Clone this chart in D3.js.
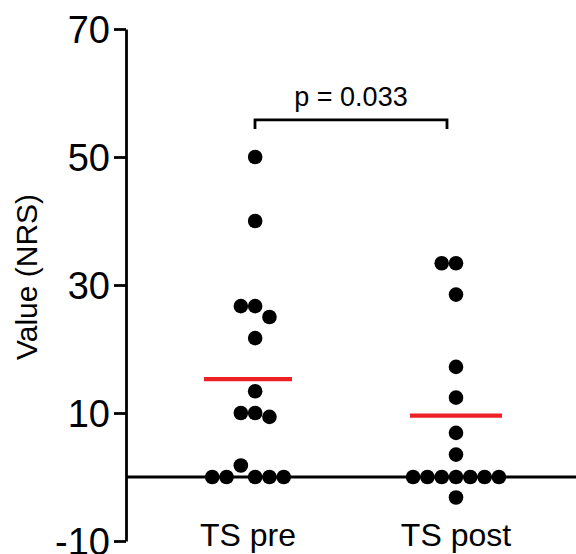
<!DOCTYPE html>
<html>
<head>
<meta charset="utf-8">
<script src="https://cdn.jsdelivr.net/npm/d3@7"></script>
<style>
  html, body { margin: 0; padding: 0; background: #fff; }
  svg { display: block; }
  text { font-family: Helvetica, "Liberation Sans", Arial, sans-serif; fill: #000; }
</style>
</head>
<body>
<svg id="chart" width="576" height="554"></svg>
<script>
// ---- data ----
const categories = ["TS pre", "TS post"];
const preValues  = [50, 40, 26.7, 26.7, 25.0, 21.7, 13.4, 10.0, 10.0, 9.4, 1.8, 0, 0, 0, 0, 0];
const preSlots   = [0.5, 0.5, -0.5, 0.5, 1.5, 0.5, 0.5, -0.5, 0.5, 1.5, -0.5, -2.5, -1.5, 0.5, 1.5, 2.5];
const postValues = [33.4, 33.4, 28.5, 17.2, 12.4, 6.9, 3.5, 0, 0, 0, 0, 0, 0, 0, -3.2];
const postSlots  = [-1, 0, 0, 0, 0, 0, 0, -3, -2, -1, 0, 1, 2, 3, 0];
const meanValues = [15.3, 9.6];
const yTicks = [-10, 10, 30, 50, 70];
const yTickLabels = ["-10", "10", "30", "50", "70"];
const yLabel = "Value (NRS)";
const pLabel = "p = 0.033";
const bracketValue = 55.8;

// ---- layout ----
const svg = d3.select("#chart");
const axisX = 126;
const y = d3.scaleLinear().domain([-10, 70]).range([541, 29]);
const x = d3.scalePoint().domain(categories).range([248, 456]);
const slotW = 14.3, r = 7.3;

// zero line
svg.append("line")
  .attr("x1", axisX).attr("x2", 576)
  .attr("y1", y(0)).attr("y2", y(0))
  .attr("stroke", "#000").attr("stroke-width", 2.8);

// y axis
const yAxis = d3.axisLeft(y).tickValues(yTicks)
  .tickFormat((d, i) => yTickLabels[i])
  .tickSize(12).tickPadding(4).tickSizeOuter(0);
const gy = svg.append("g").attr("transform", `translate(${axisX},0)`).call(yAxis);
gy.select(".domain").attr("stroke", "#000").attr("stroke-width", 2.8);
gy.selectAll(".tick line").attr("stroke", "#000").attr("stroke-width", 2.8);
gy.selectAll(".tick text")
  .style("font-family", 'Helvetica, "Liberation Sans", Arial, sans-serif')
  .style("font-size", "38px").attr("fill", "#000").attr("dy", "0.36em");

// y label
svg.append("text")
  .attr("transform", `translate(37,${y(30) - 8}) rotate(-90)`)
  .attr("text-anchor", "middle")
  .style("font-size", "30px")
  .text(yLabel);

// category labels
svg.selectAll(".cat").data(categories).enter().append("text")
  .attr("class", "cat")
  .attr("x", d => x(d)).attr("y", 546)
  .attr("text-anchor", "middle")
  .style("font-size", "32px")
  .text(d => d);

// points
const groups = [
  { cat: categories[0], values: preValues, slots: preSlots },
  { cat: categories[1], values: postValues, slots: postSlots }
];
groups.forEach(g => {
  svg.selectAll(null).data(g.values.map((v, i) => ({ v, s: g.slots[i] }))).enter()
    .append("circle")
    .attr("cx", d => x(g.cat) + d.s * slotW)
    .attr("cy", d => y(d.v))
    .attr("r", r)
    .attr("fill", "#000");
});

// mean lines
const halfW = [44, 46];
svg.selectAll(".mean").data(meanValues).enter().append("line")
  .attr("class", "mean")
  .attr("x1", (d, i) => x(categories[i]) - halfW[i])
  .attr("x2", (d, i) => x(categories[i]) + halfW[i])
  .attr("y1", d => y(d)).attr("y2", d => y(d))
  .attr("stroke", "#ee2124").attr("stroke-width", 4.3);

// significance bracket
const bx1 = x(categories[0]) + 7, bx2 = x(categories[1]) - 9;
const by = y(bracketValue), bDrop = 9;
svg.append("path")
  .attr("d", `M${bx1},${by + bDrop}V${by}H${bx2}V${by + bDrop}`)
  .attr("fill", "none").attr("stroke", "#000").attr("stroke-width", 2.8);
svg.append("text")
  .attr("x", (bx1 + bx2) / 2).attr("y", by - 14)
  .attr("text-anchor", "middle")
  .style("font-size", "27px")
  .text(pLabel);
</script>
</body>
</html>
